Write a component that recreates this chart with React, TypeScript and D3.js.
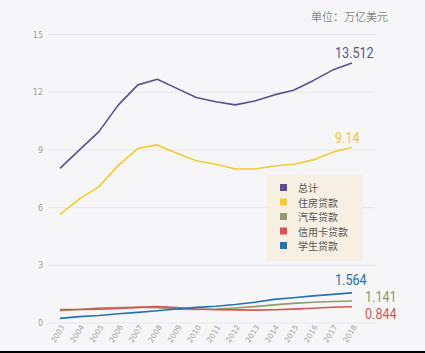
import React, { useEffect, useRef } from 'react';
import * as d3 from 'd3';

const years = ['2003', '2004', '2005', '2006', '2007', '2008', '2009', '2010', '2011', '2012', '2013', '2014', '2015', '2016', '2017', '2018'];
const total = [8.04, 9.0, 9.95, 11.34, 12.38, 12.67, 12.2, 11.72, 11.5, 11.34, 11.54, 11.86, 12.1, 12.6, 13.15, 13.512];
const housing = [5.65, 6.45, 7.09, 8.2, 9.08, 9.26, 8.83, 8.44, 8.25, 8.01, 8.01, 8.16, 8.25, 8.48, 8.88, 9.14];
const auto = [0.64, 0.7, 0.78, 0.8, 0.82, 0.8, 0.72, 0.71, 0.73, 0.78, 0.85, 0.94, 1.02, 1.08, 1.12, 1.141];
const creditCard = [0.7, 0.7, 0.72, 0.75, 0.81, 0.86, 0.8, 0.73, 0.69, 0.68, 0.67, 0.69, 0.72, 0.77, 0.82, 0.844];
const student = [0.24, 0.33, 0.39, 0.48, 0.55, 0.64, 0.73, 0.81, 0.87, 0.96, 1.08, 1.23, 1.31, 1.41, 1.49, 1.564];
const yTicks = [0, 3, 6, 9, 12, 15];
const legendLabels = ['总计', '住房贷款', '汽车贷款', '信用卡贷款', '学生贷款'];
const endLabels = ['13.512', '9.14', '1.141', '0.844', '1.564'];
const unitLabel = '单位：万亿美元';

interface Series {
  name: string;
  values: number[];
  color: string;
  labelColor: string;
  label: string;
  dx: number;
  dy: number;
}

const App: React.FC = () => {
  const svgRef = useRef<SVGSVGElement>(null);
  const width = 425;
  const height = 353;

  useEffect(() => {
    if (!svgRef.current) return;
    const svg = d3.select(svgRef.current);
    svg.selectAll('*').remove();

    const cjk = '"Noto Sans CJK SC", "Noto Sans", sans-serif';

    svg.append('rect').attr('width', width).attr('height', height).attr('fill', '#f6f6f9');
    svg.append('rect').attr('x', 0).attr('y', 351).attr('width', width).attr('height', 2).attr('fill', '#000');

    const x = d3.scalePoint<string>().domain(years).range([60, 352]);
    const y = d3.scaleLinear().domain([0, 15]).range([323, 34.5]);

    // gridlines + y labels
    const grid = svg.append('g');
    yTicks.forEach(t => {
      grid.append('line')
        .attr('x1', 48).attr('x2', 375)
        .attr('y1', y(t)).attr('y2', y(t))
        .attr('stroke', '#e7e7ec').attr('stroke-width', 1);
      grid.append('text')
        .attr('x', 43).attr('y', y(t) + 3)
        .attr('text-anchor', 'end')
        .style('font-family', '"DejaVu Sans", sans-serif')
        .style('font-size', '8px')
        .style('fill', '#a0a0a0')
        .text(t);
    });

    // x labels
    years.forEach(yr => {
      svg.append('text')
        .attr('transform', `translate(${(x(yr) || 0) + 5},${327}) rotate(-58)`)
        .attr('text-anchor', 'end')
        .style('font-family', '"DejaVu Sans", sans-serif')
        .style('font-size', '7.5px')
        .style('fill', '#a0a0a0')
        .text(yr);
    });

    const series: Series[] = [
      { name: legendLabels[0], values: total, color: '#5b4f92', labelColor: '#5b5488', label: endLabels[0], dx: -17, dy: -5 },
      { name: legendLabels[1], values: housing, color: '#f3cc30', labelColor: '#efc83a', label: endLabels[1], dx: -17, dy: -4 },
      { name: legendLabels[2], values: auto, color: '#909b6b', labelColor: '#8e9666', label: endLabels[2], dx: 13, dy: 0.5 },
      { name: legendLabels[3], values: creditCard, color: '#d8544f', labelColor: '#d45a56', label: endLabels[3], dx: 13, dy: 12.5 },
      { name: legendLabels[4], values: student, color: '#2273b3', labelColor: '#2a6fae', label: endLabels[4], dx: -17, dy: -8 }
    ];

    const line = d3.line<number>()
      .x((_, i) => x(years[i]) || 0)
      .y(d => y(d));

    const drawOrder = [2, 3, 4, 1, 0];
    drawOrder.forEach(idx => {
      const s = series[idx];
      svg.append('path')
        .datum(s.values)
        .attr('d', line)
        .attr('fill', 'none')
        .attr('stroke', s.color)
        .attr('stroke-width', 1.6)
        .attr('stroke-linejoin', 'round');
    });

    series.forEach(s => {
      const last = s.values[s.values.length - 1];
      svg.append('text')
        .attr('transform', `translate(${(x(years[years.length - 1]) || 0) + s.dx},${y(last) + s.dy}) scale(0.9,1)`)
        .style('font-family', 'Roboto, sans-serif')
        .style('font-size', '14px')
        .style('fill', s.labelColor)
        .text(s.label);
    });

    // legend
    const legend = svg.append('g').attr('transform', 'translate(267,175)');
    legend.append('rect')
      .attr('width', 96).attr('height', 86)
      .attr('fill', '#f6efe2');
    series.forEach((s, i) => {
      const row = legend.append('g').attr('transform', `translate(0,${13 + i * 14.5})`);
      row.append('rect')
        .attr('x', 13).attr('y', -4)
        .attr('width', 7).attr('height', 7)
        .attr('fill', s.color);
      row.append('text')
        .attr('x', 31).attr('y', 4)
        .style('font-family', cjk)
        .style('font-size', '10px')
        .style('fill', '#555')
        .text(s.name);
    });

    svg.append('text')
      .attr('x', 388).attr('y', 21)
      .attr('text-anchor', 'end')
      .style('font-family', cjk)
      .style('font-size', '11px')
      .style('font-weight', 300)
      .style('fill', '#555')
      .text(unitLabel);
  }, []);

  return (
    <svg ref={svgRef} width={width} height={height} style={{ position: 'absolute', left: 0, top: 0 }} />
  );
};

export default App;
